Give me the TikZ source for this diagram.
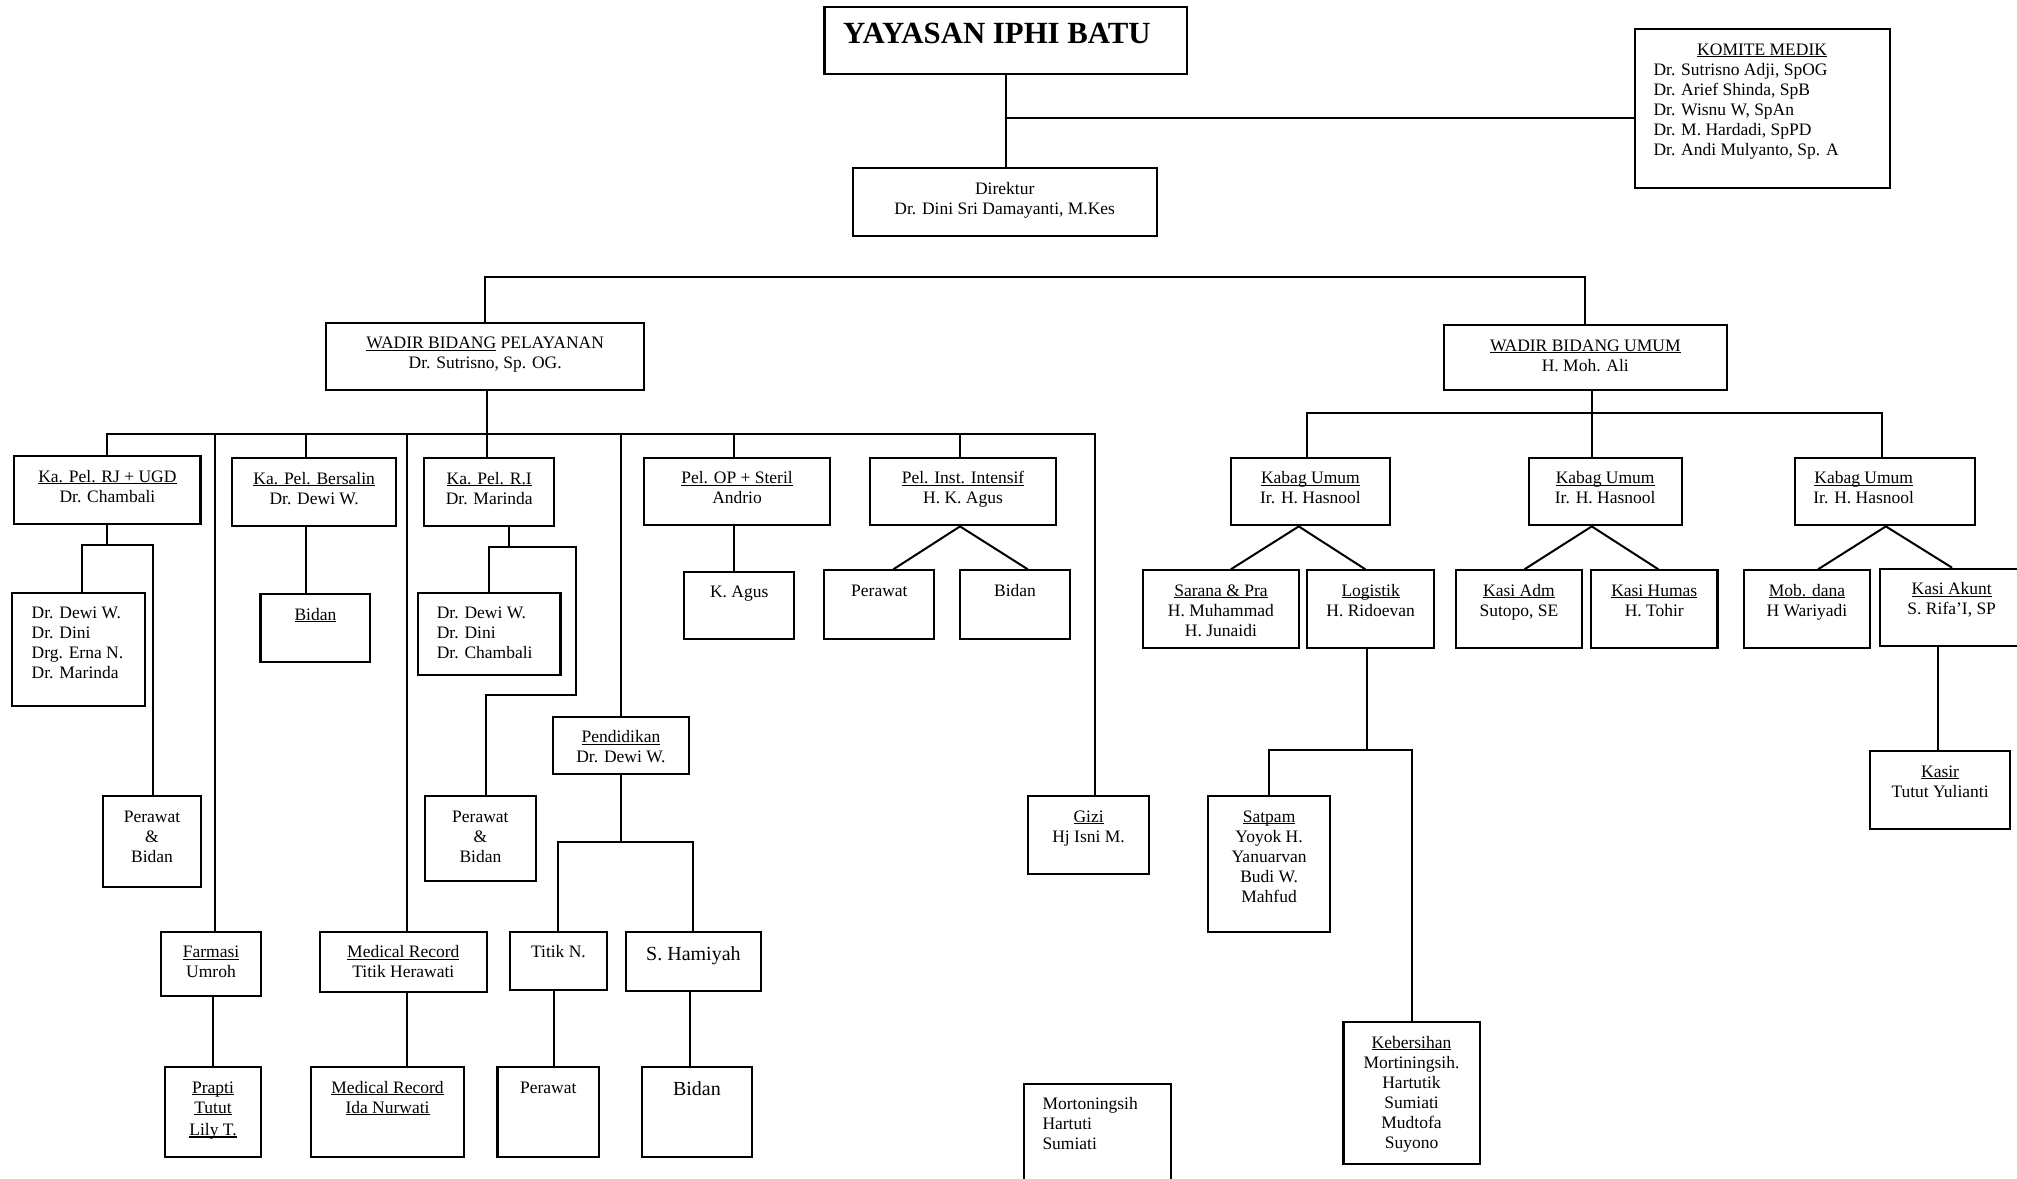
\documentclass[tikz,border=0pt]{standalone}
\usepackage{fontspec}
\setmainfont{Liberation Serif}
\newsavebox\ulbx
\newcommand\undl[1]{\sbox\ulbx{#1}\rlap{\rule[-2pt]{\wd\ulbx}{1.1pt}}\usebox\ulbx}
\tikzset{
  box/.style={draw, line width=2.1pt, inner sep=0pt, anchor=north west},
  ln/.style={line width=2pt},
  txt/.style={inner sep=0pt, anchor=base, font=\fontsize{17.5pt}{20pt}\selectfont},
  ltxt/.style={txt, anchor=base west},
  bigtxt/.style={inner sep=0pt, anchor=base, font=\fontsize{20pt}{23pt}\selectfont}
}
\newcommand\bx[5]{\pgfmathsetmacro\bxw{#4-#2}\pgfmathsetmacro\bxh{#5-#3}%
  \node[box, minimum width=\bxw pt, minimum height=\bxh pt] (#1) at (#2,#3) {};}
\newcommand\ct[2]{\node[txt] (#1-t) at ([yshift=-27pt]#1.north) {\begin{tabular}[t]{@{}c@{}}#2\end{tabular}};}
\begin{document}
\begin{tikzpicture}[x=1pt,y=-1pt]
\fill[white] (0,0) rectangle (2017,1178);
\useasboundingbox (0,0) rectangle (2017,1178);
\clip (0,0) rectangle (2017,1178);

% ---------- boxes ----------
\bx{yay}{823.4}{5.7}{1186.3}{73.3}
\bx{kom}{1633.5}{28.3}{1888.6}{186.8}
\bx{dir}{851.7}{167.3}{1155.6}{235.2}
\bx{wp}{325}{321.7}{643.3}{389.3}
\bx{wu}{1442.7}{324}{1725.8}{389.3}
\bx{rj}{13.3}{455}{199.4}{523}
\bx{bers}{231}{457}{395.2}{524.7}
\bx{ri}{423.3}{457}{553.1}{524.5}
\bx{op}{642.7}{456.7}{829.3}{524.3}
\bx{inst}{868.7}{456.7}{1055.3}{524.3}
\bx{kb1}{1229.8}{456.7}{1388.9}{524.3}
\bx{kb2}{1527.5}{456.7}{1680.7}{524.3}
\bx{kb3}{1794.2}{456.7}{1974.3}{524.3}
\bx{rjc}{11.2}{592.3}{144}{705.3}
\bx{bersc}{259.4}{593}{369.3}{660.7}
\bx{ric}{417.3}{592.3}{559.4}{674.3}
\bx{kag}{683}{570.7}{793.3}{638.3}
\bx{prw}{823.3}{569.3}{933.3}{637.7}
\bx{bdn}{958.7}{569.3}{1069.3}{637.7}
\bx{sar}{1142.1}{569.3}{1297.7}{647}
\bx{log}{1305.9}{569.3}{1433.3}{647}
\bx{kadm}{1455}{569.3}{1580.7}{647}
\bx{khum}{1590}{569.3}{1716.4}{647}
\bx{mob}{1742.7}{569.3}{1869}{647}
\bx{akt}{1879.3}{567.7}{2022}{645.3}
\bx{rjpb}{102}{795}{200}{885.7}
\bx{ripb}{424}{795}{534.7}{880}
\bx{pend}{551.5}{715.7}{688.3}{773}
\bx{gizi}{1026.8}{795}{1148.2}{873.3}
\bx{sat}{1207.1}{795}{1329}{930.7}
\bx{kasir}{1869}{750}{2009}{827.7}
\bx{far}{159.7}{930.7}{260.2}{995}
\bx{mr}{318.9}{930.7}{485.7}{991}
\bx{tit}{509.2}{930.7}{605.6}{988.7}
\bx{ham}{624.5}{930.7}{760.2}{990.3}
\bx{keb}{1342.4}{1021}{1478.5}{1162.7}
\bx{prp}{163.8}{1066}{260.2}{1156.3}
\bx{mrtwo}{310.2}{1066}{462.8}{1156.3}
\bx{prwtwo}{496.4}{1066}{598}{1156}
\bx{bdntwo}{641.3}{1066}{750.5}{1156}
\bx{mort}{1022.7}{1082.7}{1169.5}{1190}

% ---------- texts ----------
\node[inner sep=0pt, anchor=base west, font=\fontsize{30.8pt}{34pt}\selectfont\bfseries] (yay-t)
  at ([xshift=19.6pt, yshift=-37.8pt]yay.north west) {YAYASAN IPHI BATU};
\ct{kom}{\undl{KOMITE MEDIK}}
\node[ltxt] (kom-l) at ([xshift=19.8pt, yshift=-47.2pt]kom.north west)
  {\begin{tabular}[t]{@{}l@{}}Dr. Sutrisno Adji, SpOG\\Dr. Arief Shinda, SpB\\Dr. Wisnu W, SpAn\\Dr. M. Hardadi, SpPD\\Dr. Andi Mulyanto, Sp. A\end{tabular}};
\ct{dir}{Direktur\\Dr. Dini Sri Damayanti, M.Kes}
\ct{wp}{\undl{WADIR BIDANG} PELAYANAN\\Dr. Sutrisno, Sp. OG.}
\ct{wu}{\undl{WADIR BIDANG UMUM}\\H. Moh. Ali}
\ct{rj}{\undl{Ka. Pel. RJ + UGD}\\Dr. Chambali}
\ct{bers}{\undl{Ka. Pel. Bersalin}\\Dr. Dewi W.}
\ct{ri}{\undl{Ka. Pel. R.I}\\Dr. Marinda}
\ct{op}{\undl{Pel. OP + Steril}\\Andrio}
\ct{inst}{\undl{Pel. Inst. Intensif}\\H. K. Agus}
\ct{kb1}{\undl{Kabag Umum}\\Ir. H. Hasnool}
\ct{kb2}{\undl{Kabag Umum}\\Ir. H. Hasnool}
\node[txt] (kb3-t) at ([xshift=-21.6pt, yshift=-27pt]kb3.north)
  {\begin{tabular}[t]{@{}c@{}}\undl{Kabag Umum}\\Ir. H. Hasnool\end{tabular}};
\node[ltxt] (rjc-t) at ([xshift=20.3pt, yshift=-26pt]rjc.north west)
  {\begin{tabular}[t]{@{}l@{}}Dr. Dewi W.\\Dr. Dini\\Drg. Erna N.\\Dr. Marinda\end{tabular}};
\ct{bersc}{\undl{Bidan}}
\node[ltxt] (ric-t) at ([xshift=19.3pt, yshift=-26pt]ric.north west)
  {\begin{tabular}[t]{@{}l@{}}Dr. Dewi W.\\Dr. Dini\\Dr. Chambali\end{tabular}};
\ct{kag}{K. Agus}
\node[txt] (prw-t) at ([yshift=-26.7pt]prw.north) {Perawat};
\node[txt] (bdn-t) at ([yshift=-26.7pt]bdn.north) {Bidan};
\ct{sar}{\undl{Sarana \& Pra}\\H. Muhammad\\H. Junaidi}
\ct{log}{\undl{Logistik}\\H. Ridoevan}
\ct{kadm}{\undl{Kasi Adm}\\Sutopo, SE}
\ct{khum}{\undl{Kasi Humas}\\H. Tohir}
\ct{mob}{\undl{Mob. dana}\\H Wariyadi}
\ct{akt}{\undl{Kasi Akunt}\\S. Rifa’I, SP}
\ct{rjpb}{Perawat\\\&\\Bidan}
\ct{ripb}{Perawat\\\&\\Bidan}
\ct{pend}{\undl{Pendidikan}\\Dr. Dewi W.}
\ct{gizi}{\undl{Gizi}\\Hj Isni M.}
\ct{sat}{\undl{Satpam}\\Yoyok H.\\Yanuarvan\\Budi W.\\Mahfud}
\ct{kasir}{\undl{Kasir}\\Tutut Yulianti}
\ct{far}{\undl{Farmasi}\\Umroh}
\ct{mr}{\undl{Medical Record}\\Titik Herawati}
\ct{tit}{Titik N.}
\node[bigtxt] (ham-t) at ([yshift=-29.3pt]ham.north) {S. Hamiyah};
\ct{keb}{\undl{Kebersihan}\\Mortiningsih.\\Hartutik\\Sumiati\\Mudtofa\\Suyono}
\ct{prp}{\undl{Prapti}\\\undl{Tutut}\\[2.5pt]\undl{Lily T.}}
\ct{mrtwo}{\undl{Medical Record}\\\undl{Ida Nurwati}}
\ct{prwtwo}{Perawat}
\node[bigtxt] (bdntwo-t) at ([yshift=-29pt]bdntwo.north) {Bidan};
\node[ltxt] (mort-t) at ([xshift=19.6pt, yshift=-26.6pt]mort.north west)
  {\begin{tabular}[t]{@{}l@{}}Mortoningsih\\Hartuti\\Sumiati\end{tabular}};

% ---------- connectors ----------
\coordinate (jk) at (1004.85,118.3);
\coordinate (bar0) at (0,276.5);
\coordinate (bar1) at (0,434.3);
\coordinate (rjbar) at (0,545.3);
\coordinate (ribar) at (0,547.3);
\coordinate (ribartwo) at (0,695.3);
\coordinate (pbar) at (0,841.7);
\coordinate (ubar) at (0,413.3);
\coordinate (lbar) at (0,750);

\draw[ln] (yay.south) -- (yay.south |- dir.north);
\draw[ln] (jk) -- (jk -| kom.west);
\draw[ln] (wp.north) -- (wp.north |- bar0) -| (wu.north);

% Pelayanan
\coordinate (farin) at ([xshift=4.35pt]far.north);
\coordinate (bersin) at ([xshift=-8.1pt]bers.north);
\coordinate (mrin) at ([xshift=3.8pt]mr.north);
\coordinate (riin) at ([xshift=-2.7pt]ri.north);
\coordinate (gizin) at ([xshift=6.8pt]gizi.north);
\coordinate (opin) at ([xshift=-2.7pt]op.north);
\coordinate (instin) at ([xshift=-3pt]inst.north);
\draw[ln] (rj.north) |- (bar1 -| gizin) -- (gizin);
\draw[ln] (riin |- wp.south) -- (riin);
\draw[ln] (farin) -- (farin |- bar1);
\draw[ln] (bersin) -- (bersin |- bar1);
\draw[ln] (mrin) -- (mrin |- bar1);
\draw[ln] (pend.north) -- (pend.north |- bar1);
\draw[ln] (opin) -- (opin |- bar1);
\draw[ln] (instin) -- (instin |- bar1);

% RJ children
\coordinate (rjcin) at ([xshift=3.4pt]rjc.north);
\coordinate (rjpbin) at ([xshift=1.3pt]rjpb.north);
\draw[ln] (rj.south) -- (rj.south |- rjbar);
\draw[ln] (rjcin) |- (rjpbin |- rjbar) -- (rjpbin);
% Bersalin child
\draw[ln] (bersin |- bers.south) -- (bersin |- bersc.north);
% R.I children
\coordinate (riout) at ([xshift=19.8pt]ri.south);
\coordinate (rix) at ([xshift=14.7pt]ric.north east);
\coordinate (ripbin) at ([xshift=6pt]ripb.north);
\draw[ln] (riout) -- (riout |- ribar);
\draw[ln] (ric.north) |- (rix |- ribar) -- (rix |- ribartwo) -| (ripbin);
% OP
\draw[ln] (opin |- op.south) -- (opin |- kag.north);
% Inst
\draw[ln] ([xshift=14pt]prw.north) -- ([xshift=-3pt]inst.south) -- ([xshift=12.7pt]bdn.north);
% Pendidikan
\draw[ln] (pend.south) -- (pend.south |- pbar);
\draw[ln] (tit.north) |- (ham.north |- pbar) -- (ham.north);
% lower chains
\draw[ln] (prp.north |- far.south) -- (prp.north);
\draw[ln] (mrin |- mr.south) -- (mrin |- mrtwo.north);
\coordinate (titout) at ([xshift=-4.4pt]tit.south);
\draw[ln] (titout) -- (titout |- prwtwo.north);
\coordinate (hamout) at ([xshift=-3pt]ham.south);
\draw[ln] (hamout) -- (hamout |- bdntwo.north);

% Umum
\coordinate (wuout) at ([xshift=6.45pt]wu.south);
\coordinate (kbtwoin) at ([xshift=-13.4pt]kb2.north);
\coordinate (kbonein) at ([xshift=-2.95pt]kb1.north);
\coordinate (kbthreein) at ([xshift=-3.55pt]kb3.north);
\draw[ln] (wuout) -- (kbtwoin);
\draw[ln] (kbonein) |- (kbthreein |- ubar) -- (kbthreein);
\draw[ln] ([xshift=9.9pt]sar.north) -- ([xshift=-11.65pt]kb1.south) -- ([xshift=-5.3pt]log.north);
\draw[ln] ([xshift=5.55pt]kadm.north) -- ([xshift=-13.4pt]kb2.south) -- ([xshift=4.1pt]khum.north);
\draw[ln] ([xshift=11.15pt]mob.north) -- ([xshift=0.55pt]kb3.south) -- ([xshift=0.35pt]akt.north);
\coordinate (logout) at ([xshift=-3.9pt]log.south);
\draw[ln] (logout) -- (logout |- lbar);
\draw[ln] (sat.north) |- (keb.north |- lbar) -- (keb.north);
\coordinate (aktout) at ([xshift=-14.15pt]akt.south);
\draw[ln] (aktout) -- (aktout |- kasir.north);
\end{tikzpicture}
\end{document}
